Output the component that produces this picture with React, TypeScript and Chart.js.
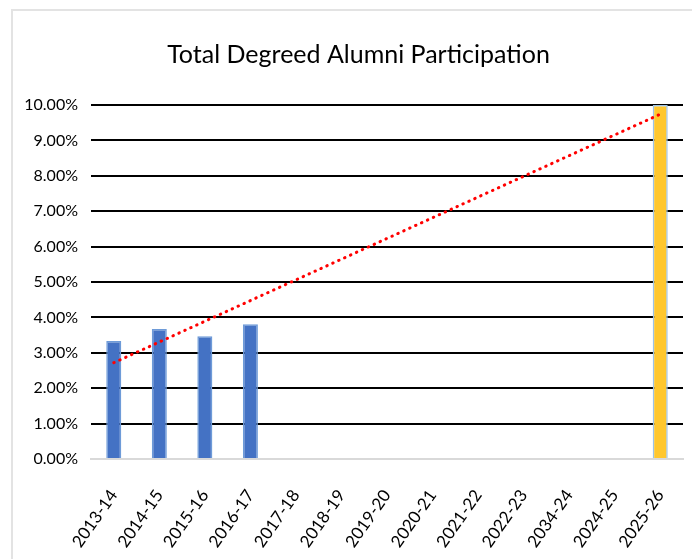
import React, { useEffect, useRef } from "react";
import { Chart, registerables } from "chart.js";

Chart.register(...registerables);

const TITLE = "Total Degreed Alumni Participation";
const categories = [
  "2013-14", "2014-15", "2015-16", "2016-17", "2017-18", "2018-19", "2019-20",
  "2020-21", "2021-22", "2022-23", "2034-24", "2024-25", "2025-26",
];
const participation = [3.33, 3.67, 3.47, 3.81, null, null, null, null, null, null, null, null, 10.0];
const barColors = ["#4472C4", "#4472C4", "#4472C4", "#4472C4", "#4472C4", "#4472C4", "#4472C4", "#4472C4", "#4472C4", "#4472C4", "#4472C4", "#4472C4", "#FFC72E"];
const barBorders = ["#6E9BD8", "#6E9BD8", "#6E9BD8", "#6E9BD8", "#6E9BD8", "#6E9BD8", "#6E9BD8", "#6E9BD8", "#6E9BD8", "#6E9BD8", "#6E9BD8", "#6E9BD8", "#9DC3E6"];
const trend = [2.72, null, null, null, null, null, null, null, null, null, null, null, 9.74];
const yTicks = { min: 0, max: 10, step: 1 };

const FONT = "Lato, 'DejaVu Sans', sans-serif";

// shifts the title block so it is centred like the reference (Excel centres on the whole frame)
const titleShift = {
  id: "titleShift",
  afterLayout(chart: any) {
    const t = chart.titleBlock;
    if (t) t.left += 20;
  },
};

export default function App() {
  const ref = useRef<HTMLCanvasElement | null>(null);
  useEffect(() => {
    if (!ref.current) return;
    const chart = new Chart(ref.current, {
      type: "bar",
      data: {
        labels: categories,
        datasets: [
          {
            type: "line",
            label: "Trend",
            data: trend,
            spanGaps: true,
            borderColor: "#FF0000",
            borderWidth: 3,
            borderDash: [0.5, 6],
            borderCapStyle: "round",
            pointRadius: 0,
            fill: false,
            order: 0,
          } as any,
          {
            type: "bar",
            label: "Participation",
            data: participation,
            backgroundColor: barColors,
            borderColor: barBorders,
            borderWidth: 1.5,
            categoryPercentage: 1,
            barPercentage: 0.33,
            order: 1,
          } as any,
        ],
      },
      options: {
        animation: false,
        responsive: false,
        maintainAspectRatio: false,
        layout: { padding: { left: 14, right: 9, top: 0, bottom: 0 } },
        plugins: {
          legend: { display: false },
          tooltip: { enabled: false },
          title: {
            display: true,
            text: TITLE,
            color: "#000",
            font: { family: FONT, size: 25, weight: "normal" },
            padding: { top: 40, bottom: 35 },
          },
        },
        scales: {
          x: {
            grid: { display: false, drawTicks: false },
            border: { display: true, color: "#D9D9D9", width: 2 },
            ticks: {
              color: "#000",
              font: { family: FONT, size: 17 },
              minRotation: 55,
              maxRotation: 55,
              padding: 27,
              autoSkip: false,
            },
            afterFit: (s: any) => {
              s.height = 100;
              s.paddingLeft = 0;
              s.paddingRight = 0;
            },
          },
          y: {
            min: yTicks.min,
            max: yTicks.max,
            grid: {
              drawTicks: false,
              color: (c: any) => (c.tick && c.tick.value === 0 ? "#D9D9D9" : "#000"),
              lineWidth: 2,
            },
            border: { display: false },
            ticks: {
              stepSize: yTicks.step,
              color: "#000",
              font: { family: FONT, size: 16 },
              padding: 13,
              callback: (v: any) => Number(v).toFixed(2) + "%",
            },
            afterFit: (s: any) => { s.width = 77; },
          },
        },
      },
      plugins: [titleShift],
    });
    return () => chart.destroy();
  }, []);

  return (
    <div style={{ position: "fixed", left: 0, top: 0, width: 692, height: 559, background: "#fff", overflow: "hidden" }}>
      <div style={{ position: "absolute", left: 11, top: 9, width: 720, height: 600, borderLeft: "2px solid #E3E3E3", borderTop: "2px solid #E3E3E3" }} />
      <canvas ref={ref} width={692} height={559} style={{ position: "absolute", left: 0, top: 0 }} />
    </div>
  );
}
